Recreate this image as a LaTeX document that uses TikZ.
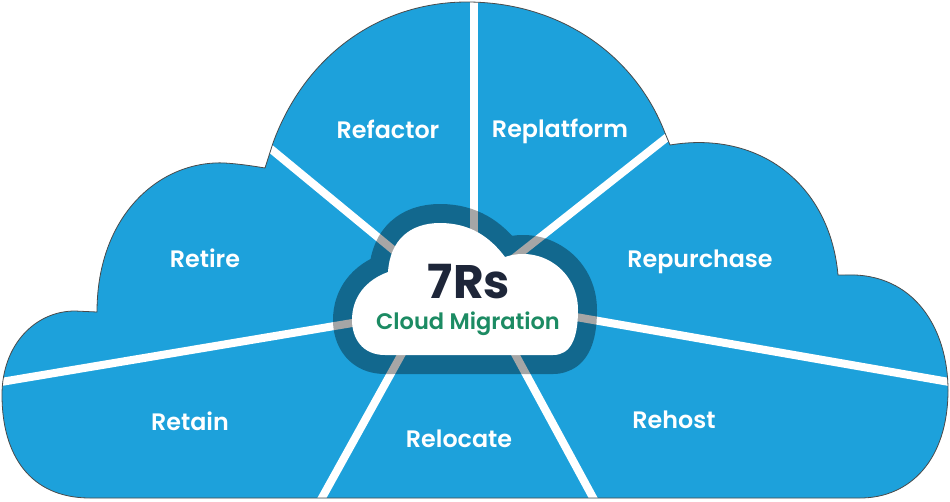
\documentclass[tikz,border=0pt]{standalone}
\usepackage{fontspec}
\setmainfont{Poppins}
\newfontfamily\popsb{Poppins SemiBold}
\newfontfamily\popb{Poppins Bold}
\definecolor{skyblue}{HTML}{1DA1DB}
\definecolor{navytxt}{HTML}{1E2639}
\definecolor{mgreen}{HTML}{1C8B63}
\definecolor{edgegray}{HTML}{4A4A4A}
\def\outercloud{(90,498) .. controls (30,498) and (2,455) .. (2,395) .. controls (2,345) and (35,311) .. (75,311) -- (97,312) .. controls (97,215) and (160,160) .. (225,163) .. controls (240,164) and (253,166) .. (265,168) -- (273,143) .. controls (305,55) and (380,2) .. (467,2) .. controls (560,2) and (635,55) .. (665,133) -- (670,145) .. controls (760,130) and (830,185) .. (838,275) -- (845,275) .. controls (915,272) and (948,330) .. (948,390) .. controls (948,460) and (910,498) .. (860,498) -- cycle}
\def\innercloud{(385,355) .. controls (362,355) and (352,338) .. (352,320) .. controls (352,297) and (366,280) .. (388,272) .. controls (390,240) and (410,223) .. (440,223) .. controls (470,223) and (490,237) .. (505,257) .. controls (540,245) and (578,270) .. (578,310) .. controls (578,340) and (570,355) .. (553,355) -- cycle}
\tikzset{
  divider/.style={draw=white, line width=8pt},
  lbl/.style={text=white, font=\popsb\fontsize{23.8}{26}\selectfont, anchor=base, inner sep=0pt},
}
\begin{document}
\begin{tikzpicture}[x=1pt,y=-1pt]
\useasboundingbox (0,0) rectangle (950,501);
% outer cloud
\fill[skyblue] \outercloud;
% divider end points
\coordinate (o1) at (474,-5);
\coordinate (i1) at (474,262);
\coordinate (o2) at (260,140);
\coordinate (i2) at (437,286);
\coordinate (o3) at (680,127);
\coordinate (i3) at (490,277);
\coordinate (o4) at (-5,383);
\coordinate (i4) at (400,315);
\coordinate (o5) at (955,383);
\coordinate (i5) at (530,309);
\coordinate (o6) at (318,505);
\coordinate (i6) at (415,330);
\coordinate (o7) at (597,505);
\coordinate (i7) at (502,330);
\begin{scope}
\clip \outercloud;
\foreach \k in {1,...,7} {\draw[divider] (o\k) -- (i\k);}
\end{scope}
\draw[edgegray, line width=0.8pt] \outercloud;
% centre cloud
\draw[draw=black, draw opacity=0.35, line width=38pt, line join=round] \innercloud;
\fill[white] \innercloud;
% labels
\node[lbl] (refactor) at (388,138) {Refactor};
\node[lbl] (replatform) at (560,137) {Replatform};
\node[lbl] (retire) at (205,267) {Retire};
\node[lbl] (repurchase) at (700,267) {Repurchase};
\node[lbl] (retain) at (190,430) {Retain};
\node[lbl] (relocate) at (459,447) {Relocate};
\node[lbl] (rehost) at (674,428) {Rehost};
\node[anchor=base, inner sep=0pt, text=navytxt, font=\popb\fontsize{47}{50}\selectfont] (title) at (469,298) {7Rs};
\node[anchor=base, inner sep=0pt, text=mgreen, font=\popsb\fontsize{22.5}{24}\selectfont, text height=12pt] (subtitle) at (468,329) {Cloud Migration};
\end{tikzpicture}
\end{document}
